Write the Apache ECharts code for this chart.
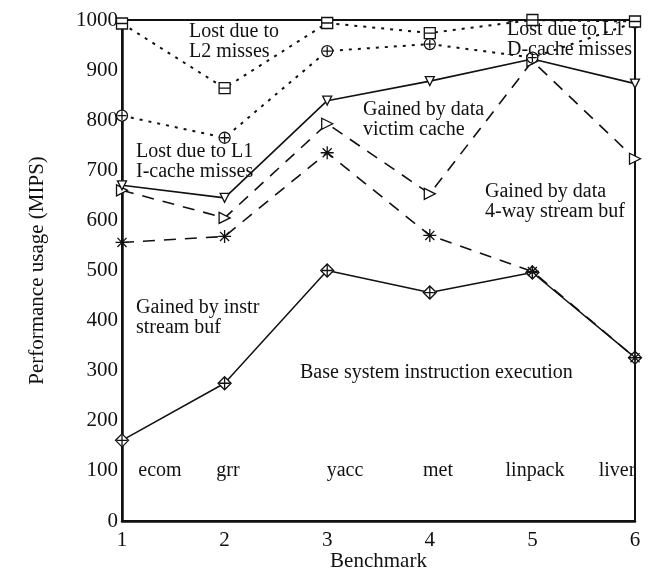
<!DOCTYPE html>
<html>
<head>
<meta charset="utf-8">
<script src="https://cdn.jsdelivr.net/npm/echarts@6/dist/echarts.min.js"></script>
<style>
  html, body { margin: 0; padding: 0; background: #fff; }
  #chart { width: 648px; height: 570px; }
</style>
</head>
<body>
<div id="chart"></div>
<script>
// Benchmark index on the x axis (1..6) and the program names written inside the plot
const benchmarks = [1, 2, 3, 4, 5, 6];
const benchmarkNames = ['ecom', 'grr', 'yacc', 'met', 'linpack', 'liver'];

// Cumulative performance levels (MIPS) for each band boundary
const baseExecution   = [161, 275, 500, 456, 496, 326];
const instrStreamBuf  = [556, 568, 735, 570, 498, 326];
const dataVictimCache = [660, 605, 793, 653, 918, 723];
const dataStreamBuf   = [670, 645, 839, 878, 922, 873];
const l1CacheLoss     = [809, 765, 938, 952, 925, 995];
const l2CacheLoss     = [993, 864, 994, 974, 1000, 997];

// Y tick values
const yTicks = [0, 100, 200, 300, 400, 500, 600, 700, 800, 900, 1000];

const FONT = '"Liberation Serif", "DejaVu Serif", serif';
const INK = '#111';

const SYM = {
  diamond: 'path://M5,0L10,5L5,10L0,5ZM1,5L9,5M5,1L5,9',
  star: 'path://M0,5L10,5M5,0L5,10M1.5,1.5L8.5,8.5M8.5,1.5L1.5,8.5',
  tri: 'path://M0,0L10,5L0,10Z',
  smallTri: 'path://M0,0L10,0L5,9Z',
  circ: 'path://M0,5A5,5 0 1,1 10,5A5,5 0 1,1 0,5ZM1,5L9,5M5,1L5,9',
  square: 'path://M0,0L10,0L10,10L0,10ZM0,5L10,5'
};

function pairs(vals) {
  return benchmarks.map((b, i) => [b, vals[i]]);
}

function lineSeries(name, vals, dash, width, symbol, size) {
  return {
    name: name,
    type: 'line',
    data: pairs(vals),
    symbol: symbol,
    symbolSize: size,
    showSymbol: true,
    lineStyle: { color: INK, width: width, type: dash, cap: 'butt' },
    itemStyle: { color: '#fff', borderColor: INK, borderWidth: 1.3 },
    emphasis: { disabled: true },
    animation: false,
    z: 3
  };
}

const chart = echarts.init(document.getElementById('chart'), null, { renderer: 'canvas' });

const texts = [
  { t: 'Lost due to\nL2 misses', x: 189, y: 22 },
  { t: 'Lost due to L1\nI-cache misses', x: 136, y: 142 },
  { t: 'Gained by instr\nstream buf', x: 136, y: 298 },
  { t: 'Gained by data\nvictim cache', x: 363, y: 100 },
  { t: 'Gained by data\n4-way stream buf', x: 485, y: 182 },
  { t: 'Lost due to L1\nD-cache misses', x: 507, y: 20 },
  { t: 'Base system instruction execution', x: 300, y: 363 }
];

// Benchmark names sit on the 100 MIPS row, near each x position
const nameCenters = [160, 228, 345, 438, 535, 617];

const graphics = texts.map(o => ({
  type: 'text',
  left: o.x,
  top: o.y,
  z: 10,
  style: {
    text: o.t,
    fill: INK,
    fontFamily: FONT,
    fontSize: 20,
    lineHeight: 20
  }
})).concat(benchmarkNames.map((n, i) => ({
  type: 'text',
  x: nameCenters[i],
  y: 471,
  z: 10,
  style: {
    text: n,
    fill: INK,
    fontFamily: FONT,
    fontSize: 20,
    align: 'center',
    verticalAlign: 'middle'
  }
})));

chart.setOption({
  backgroundColor: '#fff',
  animation: false,
  grid: {
    left: 122, right: 13, top: 20, bottom: 49,
    outerBoundsMode: 'none',
    containLabel: false,
    show: true, borderColor: INK, borderWidth: 2, backgroundColor: 'transparent'
  },
  xAxis: {
    type: 'value',
    min: 1, max: 6, interval: 1,
    name: 'Benchmark',
    nameLocation: 'middle',
    nameGap: 30,
    nameMoveOverlap: false,
    nameTextStyle: { fontFamily: FONT, fontSize: 21, color: INK },
    axisLine: { show: true, lineStyle: { color: INK, width: 2.5 } },
    axisTick: { show: false },
    splitLine: { show: false },
    axisLabel: { fontFamily: FONT, fontSize: 21, color: INK, margin: 9 }
  },
  yAxis: {
    type: 'value',
    min: 0, max: 1000, interval: 100,
    name: 'Performance usage (MIPS)',
    nameLocation: 'middle',
    nameGap: 74,
    nameMoveOverlap: false,
    nameTextStyle: { fontFamily: FONT, fontSize: 21, color: INK },
    axisLine: { show: true, lineStyle: { color: INK, width: 2.5 } },
    axisTick: { show: false },
    splitLine: { show: false },
    axisLabel: {
      fontFamily: FONT, fontSize: 21, color: INK, margin: 4,
      formatter: v => (yTicks.indexOf(v) >= 0 ? String(v) : '')
    }
  },
  series: [
    lineSeries('Base system instruction execution', baseExecution, 'solid', 1.5, SYM.diamond, 13),
    lineSeries('Gained by instr stream buf', instrStreamBuf, [12, 9], 1.6, SYM.star, 13),
    lineSeries('Gained by data victim cache', dataVictimCache, [12, 9], 1.6, SYM.tri, 11),
    lineSeries('Gained by data 4-way stream buf', dataStreamBuf, 'solid', 1.6, SYM.smallTri, 9),
    lineSeries('Lost due to L1 cache misses', l1CacheLoss, [3, 6], 2, SYM.circ, 11),
    lineSeries('Lost due to L2 misses', l2CacheLoss, [3, 6], 2, SYM.square, 11)
  ],
  graphic: graphics
});
</script>
</body>
</html>
